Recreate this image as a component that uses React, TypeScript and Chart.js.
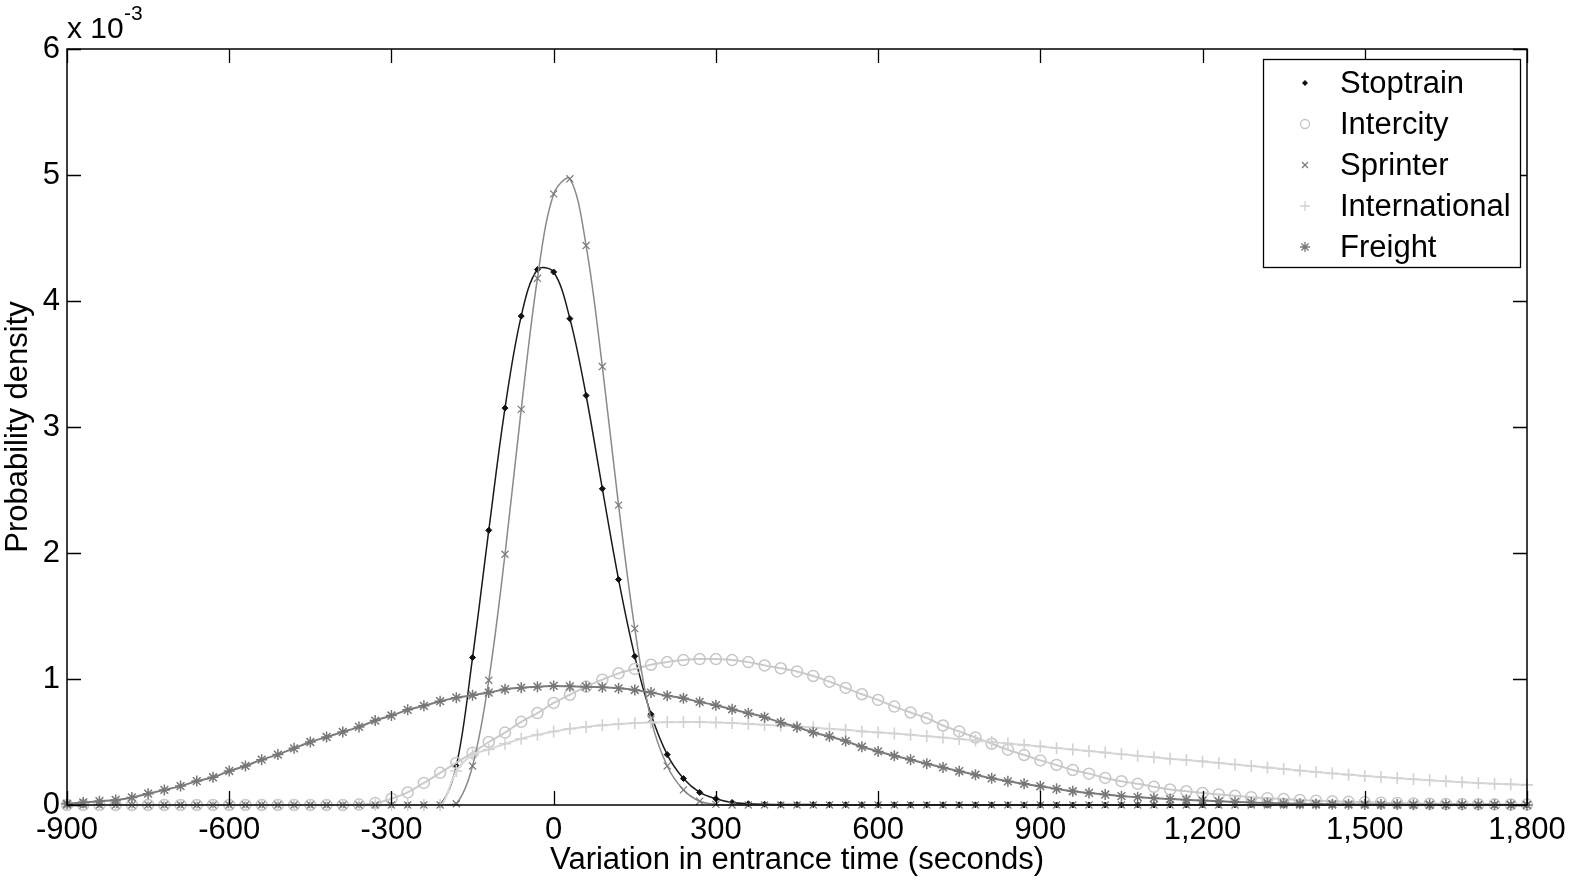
import React, { useEffect, useRef } from 'react';
import { Chart, registerables } from 'chart.js';

Chart.register(...registerables);

// Sample positions (seconds)
const xValues = [
  -900, -870, -840, -810, -780, -750, -720, -690, -660, -630,
  -600, -570, -540, -510, -480, -450, -420, -390, -360, -330,
  -300, -270, -240, -210, -180, -150, -120, -90, -60, -30,
  0, 30, 60, 90, 120, 150, 180, 210, 240, 270,
  300, 330, 360, 390, 420, 450, 480, 510, 540, 570,
  600, 630, 660, 690, 720, 750, 780, 810, 840, 870,
  900, 930, 960, 990, 1020, 1050, 1080, 1110, 1140, 1170,
  1200, 1230, 1260, 1290, 1320, 1350, 1380, 1410, 1440, 1470,
  1500, 1530, 1560, 1590, 1620, 1650, 1680, 1710, 1740, 1770,
  1800,
];

// Probability density values, in units of 1e-3
const stoptrain = [
  0, 0, 0, 0, 0, 0, 0, 0, 0, 0,
  0, 0, 0, 0, 0, 0, 0, 0, 0, 0,
  0, 0, 0, 0, 0.31, 1.17, 2.18, 3.15, 3.88, 4.25,
  4.23, 3.86, 3.25, 2.51, 1.79, 1.18, 0.72, 0.40, 0.21, 0.10,
  0.05, 0.02, 0.01, 0.006, 0.004, 0.003, 0.003, 0.002, 0.002, 0.002,
  0.001, 0.001, 0.001, 0.001, 0.001, 0.001, 0.001, 0.001, 0.001, 0,
  0, 0, 0, 0, 0, 0, 0, 0, 0, 0,
  0, 0, 0, 0, 0, 0, 0, 0, 0, 0,
  0, 0, 0, 0, 0, 0, 0, 0, 0, 0,
  0,
];

const intercity = [
  0, 0, 0, 0, 0, 0, 0, 0, 0, 0,
  0, 0, 0, 0, 0, 0, 0, 0, 0.003, 0.015,
  0.05, 0.10, 0.175, 0.255, 0.334, 0.415, 0.50, 0.575, 0.66, 0.73,
  0.81, 0.875, 0.94, 0.995, 1.045, 1.08, 1.113, 1.134, 1.15, 1.158,
  1.158, 1.15, 1.134, 1.108, 1.085, 1.06, 1.024, 0.979, 0.929, 0.879,
  0.834, 0.781, 0.734, 0.689, 0.631, 0.584, 0.536, 0.486, 0.439, 0.397,
  0.354, 0.318, 0.278, 0.249, 0.215, 0.189, 0.168, 0.144, 0.123, 0.109,
  0.096, 0.084, 0.073, 0.062, 0.054, 0.047, 0.040, 0.034, 0.029, 0.025,
  0.021, 0.018, 0.015, 0.012, 0.010, 0.008, 0.007, 0.006, 0.005, 0.004,
  0.003,
];

const sprinter = [
  0, 0, 0, 0, 0, 0, 0, 0, 0, 0,
  0, 0, 0, 0, 0, 0, 0, 0, 0, 0,
  0, 0, 0, 0, 0.01, 0.31, 0.99, 1.99, 3.14, 4.18,
  4.85, 4.97, 4.44, 3.48, 2.38, 1.40, 0.68, 0.31, 0.12, 0.03,
  0.005, 0, 0, 0, 0, 0, 0, 0, 0, 0,
  0, 0, 0, 0, 0, 0, 0, 0, 0, 0,
  0, 0, 0, 0, 0, 0, 0, 0, 0, 0,
  0, 0, 0, 0, 0, 0, 0, 0, 0, 0,
  0, 0, 0, 0, 0, 0, 0, 0, 0, 0,
  0,
];

const international = [
  0, 0, 0, 0, 0, 0, 0, 0, 0, 0,
  0, 0, 0, 0, 0, 0, 0, 0, 0, 0,
  0, 0, 0, 0, 0.27, 0.40, 0.44, 0.486, 0.526, 0.557,
  0.583, 0.605, 0.62, 0.632, 0.642, 0.65, 0.655, 0.657, 0.658, 0.658,
  0.655, 0.65, 0.644, 0.636, 0.63, 0.623, 0.615, 0.605, 0.597, 0.584,
  0.576, 0.568, 0.557, 0.546, 0.536, 0.524, 0.512, 0.500, 0.488, 0.477,
  0.465, 0.452, 0.44, 0.428, 0.416, 0.403, 0.391, 0.379, 0.367, 0.357,
  0.346, 0.333, 0.321, 0.309, 0.297, 0.285, 0.273, 0.262, 0.251, 0.241,
  0.231, 0.222, 0.213, 0.204, 0.196, 0.188, 0.181, 0.175, 0.169, 0.164,
  0.16,
];

const freight = [
  0.01, 0.02, 0.03, 0.04, 0.06, 0.09, 0.12, 0.15, 0.19, 0.22,
  0.27, 0.31, 0.36, 0.40, 0.45, 0.50, 0.54, 0.58, 0.62, 0.67,
  0.71, 0.755, 0.787, 0.824, 0.852, 0.871, 0.892, 0.919, 0.931, 0.939,
  0.945, 0.942, 0.939, 0.934, 0.926, 0.913, 0.892, 0.868, 0.847, 0.818,
  0.792, 0.760, 0.729, 0.697, 0.655, 0.618, 0.576, 0.544, 0.507, 0.462,
  0.425, 0.391, 0.360, 0.328, 0.298, 0.268, 0.240, 0.212, 0.188, 0.168,
  0.149, 0.128, 0.109, 0.096, 0.083, 0.070, 0.062, 0.054, 0.047, 0.041,
  0.035, 0.029, 0.024, 0.020, 0.016, 0.013, 0.010, 0.008, 0.006, 0.005,
  0.004, 0.003, 0.003, 0.002, 0.002, 0.001, 0.001, 0.001, 0.001, 0,
  0,
];

const seriesNames = ['Stoptrain', 'Intercity', 'Sprinter', 'International', 'Freight'];
const seriesValues = [stoptrain, intercity, sprinter, international, freight];

const xTickValues = [-900, -600, -300, 0, 300, 600, 900, 1200, 1500, 1800];
const xTickLabels = ['-900', '-600', '-300', '0', '300', '600', '900', '1,200', '1,500', '1,800'];
const yTickValues = [0, 1, 2, 3, 4, 5, 6];
const yTickLabels = ['0', '1', '2', '3', '4', '5', '6'];

const xTitle = 'Variation in entrance time (seconds)';
const yTitle = 'Probability density';

const FONT = '"Liberation Sans", Arial, Helvetica, sans-serif';

// styles (kept apart from data)
const styles = [
  { line: '#1a1a1a', mark: '#111111', point: 'rectRot', r: 3, lw: 1.5, pw: 1, fill: '#111111', legend: 'diamond', lr: 3, tension: 0.35, mode: 'default' },
  { line: '#cbcbcb', mark: '#c6c6c6', point: 'circle', r: 5.5, lw: 2, pw: 1.5, fill: 'rgba(0,0,0,0)', legend: 'circle', lr: 4.5, tension: 0, mode: 'monotone' },
  { line: '#8a8a8a', mark: '#7a7a7a', point: 'crossRot', r: 5, lw: 1.5, pw: 1.2, fill: 'rgba(0,0,0,0)', legend: 'x', lr: 3, tension: 0.35, mode: 'default' },
  { line: '#d8d8d8', mark: '#d2d2d2', point: 'cross', r: 6, lw: 2, pw: 1.6, fill: 'rgba(0,0,0,0)', legend: 'plus', lr: 5, tension: 0, mode: 'monotone' },
  { line: '#7c7c7c', mark: '#777777', point: 'star', r: 5.5, lw: 2, pw: 1.5, fill: 'rgba(0,0,0,0)', legend: 'star', lr: 5, tension: 0, mode: 'monotone' },
];

function drawMarker(ctx: CanvasRenderingContext2D, kind: string, x: number, y: number, r: number, color: string) {
  ctx.save();
  ctx.strokeStyle = color;
  ctx.fillStyle = color;
  ctx.lineWidth = 1.3;
  ctx.beginPath();
  const d = r * Math.SQRT1_2;
  if (kind === 'diamond') {
    ctx.moveTo(x, y - r); ctx.lineTo(x + r, y); ctx.lineTo(x, y + r); ctx.lineTo(x - r, y); ctx.closePath();
    ctx.fill();
  } else if (kind === 'circle') {
    ctx.arc(x, y, r, 0, Math.PI * 2);
    ctx.stroke();
  } else if (kind === 'x') {
    ctx.moveTo(x - r, y - r); ctx.lineTo(x + r, y + r);
    ctx.moveTo(x + r, y - r); ctx.lineTo(x - r, y + r);
    ctx.stroke();
  } else if (kind === 'plus') {
    ctx.moveTo(x - r, y); ctx.lineTo(x + r, y);
    ctx.moveTo(x, y - r); ctx.lineTo(x, y + r);
    ctx.stroke();
  } else if (kind === 'star') {
    ctx.moveTo(x - r, y); ctx.lineTo(x + r, y);
    ctx.moveTo(x, y - r); ctx.lineTo(x, y + r);
    ctx.moveTo(x - d, y - d); ctx.lineTo(x + d, y + d);
    ctx.moveTo(x + d, y - d); ctx.lineTo(x - d, y + d);
    ctx.stroke();
  }
  ctx.restore();
}

const framePlugin = {
  id: 'matlabFrame',
  afterDatasetsDraw(chart: any) {
    const { ctx, chartArea: a, scales } = chart;
    const tl = 14;
    ctx.save();
    ctx.strokeStyle = '#000';
    ctx.lineWidth = 1.5;
    ctx.strokeRect(a.left, a.top, a.right - a.left, a.bottom - a.top);
    ctx.beginPath();
    xTickValues.forEach((v) => {
      const px = Math.round(scales.x.getPixelForValue(v)) + 0.5;
      ctx.moveTo(px, a.bottom); ctx.lineTo(px, a.bottom - tl);
      ctx.moveTo(px, a.top); ctx.lineTo(px, a.top + tl);
    });
    yTickValues.forEach((v) => {
      const py = Math.round(scales.y.getPixelForValue(v)) + 0.5;
      ctx.moveTo(a.left, py); ctx.lineTo(a.left + tl, py);
      ctx.moveTo(a.right, py); ctx.lineTo(a.right - tl, py);
    });
    ctx.lineWidth = 1.3;
    ctx.stroke();
    ctx.restore();
  },
  afterDraw(chart: any) {
    const { ctx, chartArea: a } = chart;
    ctx.save();
    // exponent label
    ctx.fillStyle = '#000';
    ctx.textBaseline = 'middle';
    ctx.textAlign = 'left';
    ctx.font = `30px ${FONT}`;
    ctx.fillText('x 10', a.left, 30);
    ctx.font = `21px ${FONT}`;
    ctx.fillText('-3', a.left + 57, 14);

    // legend
    const lx = 1263, ly = 59, lw = 257, lh = 208;
    ctx.fillStyle = '#fff';
    ctx.fillRect(lx, ly, lw, lh);
    ctx.strokeStyle = '#000';
    ctx.lineWidth = 1.3;
    ctx.strokeRect(lx + 0.5, ly + 0.5, lw, lh);
    ctx.font = `31px ${FONT}`;
    seriesNames.forEach((name, i) => {
      const cy = 83 + i * 41;
      const s = styles[i];
      drawMarker(ctx, s.legend, 1305, cy, s.lr, s.mark);
      ctx.fillStyle = '#000';
      ctx.textBaseline = 'middle';
      ctx.textAlign = 'left';
      ctx.fillText(name, 1340, cy + 1);
    });
    ctx.restore();
  },
};

export default function App() {
  const ref = useRef<HTMLCanvasElement | null>(null);
  useEffect(() => {
    document.body.style.margin = '0';
    Chart.defaults.font.family = FONT;
    Chart.defaults.color = '#000';
    const datasets = seriesNames.map((name, i) => {
      const s = styles[i];
      return {
        label: name,
        data: xValues.map((x, k) => ({ x, y: seriesValues[i][k] })),
        borderColor: s.line,
        borderWidth: s.lw,
        pointStyle: s.point,
        pointRadius: s.r,
        pointBorderColor: s.mark,
        pointBackgroundColor: s.fill,
        pointBorderWidth: s.pw,
        cubicInterpolationMode: s.mode,
        tension: s.tension,
        fill: false,
        clip: 12,
        order: seriesNames.length - i,
      };
    });
    const chart = new Chart(ref.current as HTMLCanvasElement, {
      type: 'line',
      data: { datasets } as any,
      options: {
        responsive: false,
        animation: false,
        devicePixelRatio: 1,
        layout: { padding: { left: 0, right: 43, top: 49, bottom: 0 } },
        plugins: { legend: { display: false }, tooltip: { enabled: false } },
        scales: {
          x: {
            type: 'linear',
            min: -900,
            max: 1800,
            afterFit: (s: any) => { s.height = 81; s.paddingLeft = 0; s.paddingRight = 0; },
            afterBuildTicks: (s: any) => { s.ticks = xTickValues.map((v) => ({ value: v })); },
            ticks: {
              padding: 7,
              maxRotation: 0,
              autoSkip: false,
              font: { size: 31, family: FONT },
              color: '#000',
              callback: (v: any) => {
                const idx = xTickValues.indexOf(Number(v));
                return idx >= 0 ? xTickLabels[idx] : '';
              },
            },
            grid: { display: false, drawTicks: false },
            border: { display: false },
            title: {
              display: true,
              text: xTitle,
              font: { size: 31, family: FONT },
              color: '#000',
              padding: { top: 0, bottom: 7 },
            },
          },
          y: {
            type: 'linear',
            min: 0,
            max: 6,
            afterFit: (s: any) => { s.width = 67; s.paddingTop = 0; s.paddingBottom = 0; },
            afterBuildTicks: (s: any) => { s.ticks = yTickValues.map((v) => ({ value: v })); },
            ticks: {
              padding: 7,
              autoSkip: false,
              font: { size: 31, family: FONT },
              color: '#000',
              callback: (v: any) => {
                const idx = yTickValues.indexOf(Number(v));
                return idx >= 0 ? yTickLabels[idx] : '';
              },
            },
            grid: { display: false, drawTicks: false },
            border: { display: false },
            title: {
              display: true,
              text: yTitle,
              font: { size: 31, family: FONT },
              color: '#000',
              padding: { top: 0, bottom: 0 },
            },
          },
        },
      } as any,
      plugins: [framePlugin],
    });
    return () => chart.destroy();
  }, []);
  return (
    <div style={{ position: 'absolute', left: 0, top: 0, width: 1570, height: 886, background: '#fff' }}>
      <canvas ref={ref} width={1570} height={886} style={{ display: 'block' }} />
    </div>
  );
}
